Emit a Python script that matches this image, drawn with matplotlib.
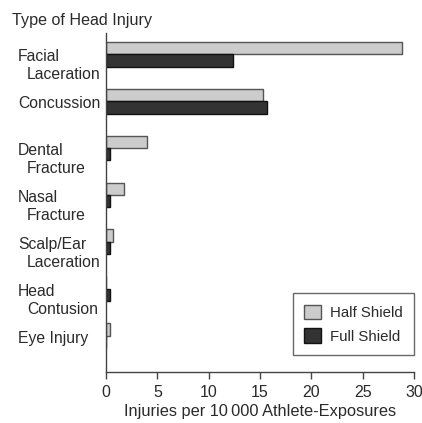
import matplotlib
matplotlib.use("Agg")
import matplotlib.pyplot as plt
from matplotlib.patches import Patch
import matplotlib.transforms as mtransforms

plt.rcParams['font.family'] = ['Liberation Sans', 'DejaVu Sans']

categories = ["Facial\nLaceration", "Concussion", "Dental\nFracture", "Nasal\nFracture",
              "Scalp/Ear\nLaceration", "Head\nContusion", "Eye Injury"]
half_shield = [28.8, 15.3, 4.0, 1.8, 0.7, 0.0, 0.35]
full_shield = [12.4, 15.7, 0.4, 0.4, 0.35, 0.4, 0.0]
xticks = [0, 5, 10, 15, 20, 25, 30]
series_names = ["Half Shield", "Full Shield"]

HALF_C = "#cccccc"
FULL_C = "#333333"
TXT = "#2a2a2a"
FS = 11.3

fig = plt.figure(figsize=(4.22, 4.23), dpi=100)
ax = fig.add_axes([106/422, 1-372/423, 308/422, (372-33)/423])

h = 0.265
ys = list(range(len(categories)))
ax.barh([y - h/2 for y in ys], half_shield, height=h, color=HALF_C,
        edgecolor="#555555", linewidth=1.0)
ax.barh([y + h/2 for y in ys], full_shield, height=h, color=FULL_C,
        edgecolor="#111111", linewidth=1.0)

ax.set_xlim(0, 30)
ax.set_ylim(6.77, -0.45)
ax.set_xticks(xticks)
ax.set_xticklabels([str(t) for t in xticks], fontsize=11.5, color=TXT)
ax.set_yticks([])
for s in ["top", "right"]:
    ax.spines[s].set_visible(False)
for s in ["left", "bottom"]:
    ax.spines[s].set_color("#444444")
    ax.spines[s].set_linewidth(1.0)
ax.tick_params(axis="x", direction="out", length=5, width=1.0, color="#444444", pad=4)
ax.set_xlabel("Injuries per 10\u2009000 Athlete-Exposures", fontsize=11.8, color=TXT, labelpad=3)

trans = mtransforms.blended_transform_factory(fig.transFigure, ax.transData)
for y, cat in zip(ys, categories):
    lines = cat.split("\n")
    ax.text(18/422, y + 0.05, lines[0], transform=trans, ha="left", va="center",
            fontsize=FS, color=TXT)
    if len(lines) > 1:
        ax.text(27/422, y + 0.43, lines[1], transform=trans, ha="left", va="center",
                fontsize=FS, color=TXT)

fig.text(12/422, 1-21/423, "Type of Head Injury", ha="left", va="center",
         fontsize=11.6, color=TXT)

handles = [Patch(facecolor=HALF_C, edgecolor="#555555", label=series_names[0]),
           Patch(facecolor=FULL_C, edgecolor="#111111", label=series_names[1])]
leg = ax.legend(handles=handles, loc="lower right", bbox_to_anchor=(1.0, 0.05),
                borderaxespad=0.0, fontsize=10.8, frameon=True, fancybox=False,
                handlelength=1.15, handleheight=1.15, borderpad=0.75,
                labelspacing=0.55, handletextpad=0.6)
leg.get_frame().set_edgecolor("#444444")
leg.get_frame().set_linewidth(1.0)
for t in leg.get_texts():
    t.set_color(TXT)

fig.savefig("out.png", dpi=100)
